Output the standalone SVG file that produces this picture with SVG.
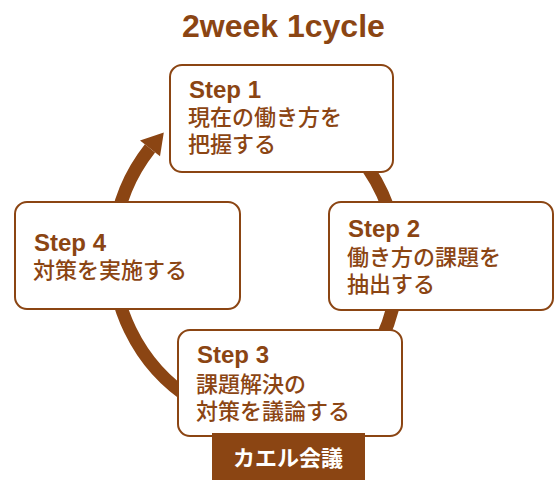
<svg xmlns="http://www.w3.org/2000/svg" width="557" height="484" viewBox="0 0 557 484">
<style>
.box{fill:#fff;stroke:#8B4513;stroke-width:2}
.step{font-family:"Liberation Sans",Arial,sans-serif;font-weight:bold;font-size:24px;fill:#8B4513}
.jp{font-family:"Noto Sans CJK JP","Noto Sans",sans-serif;font-weight:500;font-size:22px;fill:#8B4513}
.ring{fill:none;stroke:#8B4513;stroke-width:13}
</style>
<rect width="557" height="484" fill="#fff"/>
<text x="182" y="37" font-family="Liberation Sans,Arial,sans-serif" font-weight="bold" font-size="32" fill="#8B4513">2week 1cycle</text>
<g id="connectors">
<path class="ring" d="M226.2,93.4 A172,172 0 0 1 285,427 A172,172 0 0 1 150,148.4"/>
<polygon points="140,140.5 160,156.3 163.8,132.6" fill="#8B4513"/>
</g>
<g id="step1">
<rect class="box" x="170" y="65" width="223" height="107" rx="12"/>
<text class="step" x="189" y="98">Step 1</text>
<text class="jp" x="188" y="125">現在の働き方を</text>
<text class="jp" x="188" y="152">把握する</text>
</g>
<g id="step2">
<rect class="box" x="329" y="202" width="224" height="108" rx="12"/>
<text class="step" x="348" y="237">Step 2</text>
<text class="jp" x="347" y="264.5">働き方の課題を</text>
<text class="jp" x="347" y="291.5">抽出する</text>
</g>
<g id="step3">
<rect class="box" x="178" y="330" width="224" height="106" rx="12"/>
<text class="step" x="197" y="363">Step 3</text>
<text class="jp" x="196" y="392">課題解決の</text>
<text class="jp" x="196" y="419">対策を議論する</text>
</g>
<g id="step4">
<rect class="box" x="15" y="202" width="225" height="107" rx="12"/>
<text class="step" x="34" y="251">Step 4</text>
<text class="jp" x="33" y="277.5">対策を実施する</text>
</g>
<g id="label">
<rect x="212" y="433" width="153" height="47" fill="#8B4513"/>
<text x="288" y="466" text-anchor="middle" font-family="Noto Sans CJK JP,sans-serif" font-weight="bold" font-size="22" fill="#fff">カエル会議</text>
</g>
</svg>
